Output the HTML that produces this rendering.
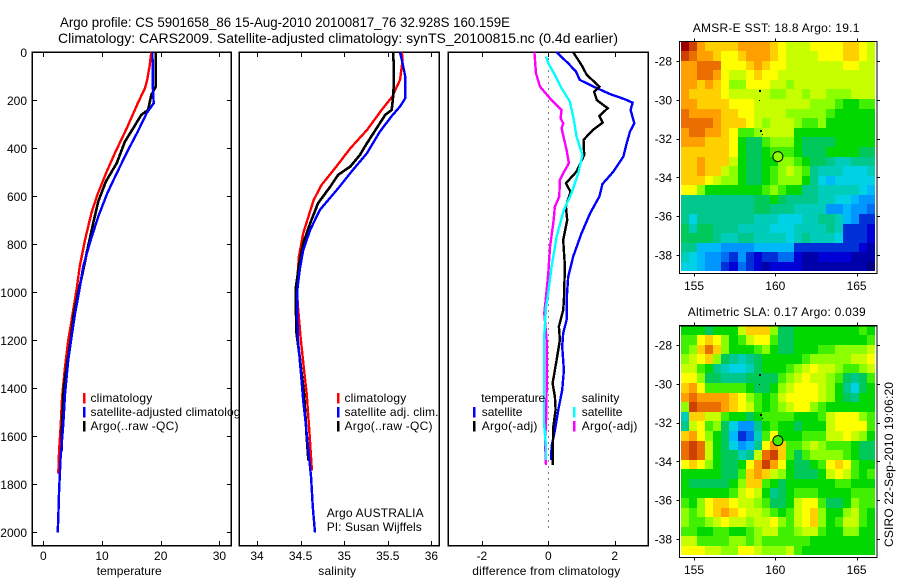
<!DOCTYPE html>
<html>
<head>
<meta charset="utf-8">
<title>Argo profile chart</title>
<style>
html,body{margin:0;padding:0;background:#fff;}
svg{display:block;font-family:"Liberation Sans",sans-serif;}
text{fill:#000;}
</style>
</head>
<body>
<svg id="chart" width="900" height="580" viewBox="0 0 900 580" xmlns="http://www.w3.org/2000/svg">
<rect x="0" y="0" width="900" height="580" fill="#fff"/>
<text x="60" y="27" font-size="14" textLength="450" lengthAdjust="spacingAndGlyphs">Argo profile: CS 5901658_86 15-Aug-2010 20100817_76 32.928S 160.159E</text>
<text x="58" y="43" font-size="14" textLength="560" lengthAdjust="spacingAndGlyphs">Climatology: CARS2009. Satellite-adjusted climatology: synTS_20100815.nc (0.4d earlier)</text>
<g id="p1"></g>
<g id="p2"></g>
<g id="p3"></g>
<g id="m1"></g>
<g id="m2"></g>
<text x="96.7" y="575" font-size="12" textLength="65">temperature</text>
<text x="318.3" y="575" font-size="12" textLength="37.7">salinity</text>
<text x="472.3" y="575" font-size="12" textLength="148">difference from climatology</text>
<text x="692.7" y="32" font-size="12" textLength="166.7">AMSR-E SST: 18.8 Argo: 19.1</text>
<text x="687.7" y="316" font-size="12" textLength="178">Altimetric SLA: 0.17 Argo: 0.039</text>
<text x="326.7" y="517" font-size="12" textLength="97">Argo AUSTRALIA</text>
<text x="326.7" y="531" font-size="12" textLength="95">PI: Susan Wijffels</text>
<text transform="translate(893,547) rotate(-90)" font-size="12" textLength="165">CSIRO 22-Sep-2010 19:06:20</text>
</svg>
<script>
// ---- profile data ----
const tClimDepth=[0,60,115,150,212,317,420,497,594,670,782,893,983,1118,1201,1312,1437,1562,1660,1754];
const tClim=[18.4,18.1,17.7,17.3,16.1,14.2,12.2,10.8,9.2,8.2,7.1,6.2,5.7,4.8,4.25,3.7,3.2,2.95,2.7,2.55];
const tSatDepth=[0,143,212,254,330,407,504,587,685,796,893,983,1090,1188,1285,1424,1549,1688,1826,1937,2001];
const tSat=[18.6,18.65,18.8,17.6,16.1,14.45,12.5,10.9,9.35,7.9,6.8,6.2,5.4,4.8,4.25,3.7,3.4,2.95,2.7,2.55,2.45];
const tArgoDepth=[0,143,178,240,261,317,372,462,539,622,712,824,921,983,1090,1201,1312,1396,1549,1660];
const tArgo=[19.15,19.15,18.4,17.85,16.7,15.3,13.9,12.5,10.65,9.35,8.5,7.5,6.7,6.1,5.2,4.65,3.97,3.5,3.2,3.1];

const sClimDepth=[0,33,115,185,240,324,400,476,553,615,685,754,851,983,1062,1188,1326,1424,1576,1743];
const sClim=[35.66,35.67,35.64,35.55,35.43,35.26,35.07,34.91,34.74,34.65,34.59,34.53,34.48,34.455,34.47,34.5,34.54,34.57,34.6,34.63];
const sSatDepth=[0,46,100,192,226,268,330,421,490,567,657,740,824,907,983,1062,1201,1340,1451,1549,1660,1771,1896,2001];
const sSat=[35.64,35.67,35.7,35.7,35.64,35.54,35.41,35.26,35.1,34.93,34.72,34.61,34.53,34.49,34.465,34.46,34.47,34.505,34.53,34.56,34.59,34.62,34.64,34.665];
const sArgoDepth=[0,60,170,240,261,317,379,428,476,511,560,629,712,796,879,983,1160,1270,1424,1604,1701];
const sArgo=[35.56,35.57,35.565,35.545,35.47,35.37,35.26,35.18,35.07,34.93,34.84,34.7,34.61,34.53,34.485,34.445,34.45,34.49,34.54,34.57,34.59];

const dtSatDepth=[0,46,80,115,143,174,196,210,240,296,330,379,435,497,549,601,671,754,851,935,1032,1115,1171,1226,1324,1407,1490,1574,1643,1699];
const dtSat=[0.25,0.6,0.83,0.95,1.36,1.86,2.31,2.54,2.48,2.59,2.46,2.36,2.26,1.96,1.63,1.54,1.26,1.0,0.75,0.6,0.55,0.55,0.45,0.42,0.47,0.42,0.3,0.2,0.1,0.08];
const dtArgoDepth=[0,53,94,143,164,199,233,265,293,324,365,428,497,546,581,643,699,782,893,1032,1074,1143,1199,1282,1379,1435,1490,1560,1643,1719];
const dtArgo=[0.75,1.0,1.16,1.54,1.38,1.46,1.79,1.54,1.64,1.34,1.06,1.08,0.85,0.53,0.67,0.53,0.57,0.45,0.5,0.47,0.45,0.32,0.35,0.25,0.13,0.2,0.22,0.15,0.14,0.13];
const dsSatDepth=[18,46,94,150,206,282,351,428,504,587,657,768,893,1032,1060,1199,1407,1546,1643,1699];
const dsSat=[-0.07,0,0.2,0.4,0.65,0.77,0.85,1.03,0.9,0.7,0.47,0.25,0.1,-0.03,-0.07,-0.13,-0.13,-0.13,-0.07,-0.07];
const dsArgoDepth=[0,88,143,192,240,275,296,317,407,462,504,532,601,643,712,810,921,1018,1087,1199,1407,1546,1615,1719];
const dsArgo=[-0.42,-0.37,-0.25,0.05,0.4,0.37,0.45,0.4,0.55,0.62,0.45,0.35,0.33,0.2,0.15,0.05,0,-0.07,-0.12,-0.05,-0.05,-0.07,-0.1,-0.07];

// ---- tick labels ----
const depthTicks=[0,200,400,600,800,1000,1200,1400,1600,1800,2000];
const tempTicks=[0,10,20,30];
const salTicks=[34,34.5,35,35.5,36];
const diffTicks=[-2,0,2];
const lonTicks=[155,160,165];
const latTicks=[-28,-30,-32,-34,-36,-38];

// ---- map fields (colour level 0-20, rows north to south, columns west to east) ----
const sstGrid=[
[20,19,17,16,16,16,16,17,17,17,17,16,15,14,14,14,15,15,15,15,16,16,15,14],
[19,18,17,17,16,15,15,16,17,17,17,16,15,14,14,14,14,15,15,15,16,16,15,14],
[17,17,18,18,18,15,15,15,16,17,16,15,15,14,14,14,14,14,14,14,15,15,14,14],
[17,17,18,18,17,15,14,14,15,16,15,15,14,14,14,14,14,14,14,14,14,14,14,14],
[17,17,16,17,16,15,13,13,15,15,15,14,14,13,14,14,14,14,14,14,14,14,14,14],
[17,16,16,16,16,15,14,14,14,14,14,13,13,14,14,13,14,14,13,13,13,14,14,14],
[17,17,16,16,16,16,15,15,15,14,14,14,14,14,14,14,13,13,13,12,11,11,12,12],
[18,17,17,17,17,16,16,15,15,14,14,14,14,13,13,13,13,13,12,11,11,11,11,11],
[18,18,18,18,17,16,16,16,15,14,13,14,14,14,13,12,12,13,11,11,11,11,11,11],
[17,18,18,17,17,16,15,12,12,13,14,14,14,14,11,11,11,11,11,11,11,11,11,11],
[17,17,17,16,16,16,15,11,10,10,12,13,13,13,11,10,10,10,10,11,11,11,11,11],
[16,16,16,16,16,16,15,11,10,10,11,12,12,12,11,10,10,10,11,11,11,11,10,10],
[16,16,17,16,16,16,14,11,10,10,11,11,13,13,12,11,10,10,9,8,8,9,9,9],
[16,16,17,16,16,14,13,11,10,10,11,12,13,14,13,12,9,8,8,8,7,7,7,8],
[16,16,16,15,14,13,13,11,10,10,11,12,13,13,13,11,9,7,6,7,7,7,7,7],
[15,15,13,11,11,11,11,11,11,11,12,13,12,11,11,9,9,8,8,8,8,8,7,6],
[9,9,9,9,9,9,9,9,9,10,10,11,10,9,9,9,9,8,8,7,7,6,5,5],
[9,9,9,9,9,9,9,9,9,10,10,9,9,9,8,8,8,8,5,5,6,5,5,4],
[9,7,9,9,9,9,9,9,9,8,8,8,7,7,7,8,8,9,9,8,6,5,3,3],
[10,8,10,10,9,9,9,8,8,8,8,7,7,7,8,8,8,8,9,8,3,3,3,2],
[10,10,10,10,9,8,8,9,9,8,8,8,8,7,8,9,8,8,8,7,3,3,3,2],
[9,9,6,6,6,5,5,5,5,6,6,6,6,6,3,3,3,3,3,3,3,3,2,1],
[8,7,6,5,5,4,3,5,3,2,3,3,4,4,2,1,1,2,2,2,2,1,1,1],
[7,7,6,5,5,3,2,4,3,2,1,2,2,2,2,1,1,1,1,1,1,1,1,0]
];
const slaGrid=[
[11,11,11,10,11,11,11,14,16,16,16,13,10,10,11,11,11,11,11,11,11,11,12,11],
[12,12,15,16,15,13,11,12,14,15,15,12,10,10,11,11,11,11,11,11,11,11,11,12],
[12,13,16,18,16,13,11,11,11,12,13,11,10,10,11,11,11,12,12,13,13,13,13,14],
[13,14,15,16,13,10,9,8,9,10,11,11,11,11,11,12,13,13,13,13,13,14,14,15],
[14,14,12,11,9,8,7,7,8,10,11,11,11,12,13,14,15,14,14,13,12,12,13,14],
[15,15,13,10,10,9,9,9,10,10,10,10,12,13,14,15,14,14,13,12,10,9,10,12],
[16,17,15,12,12,12,12,12,11,10,10,11,13,14,15,15,15,14,13,11,9,7,10,11],
[17,18,17,17,17,17,16,15,13,12,11,12,14,15,15,15,15,14,13,11,10,9,11,11],
[13,19,18,18,18,17,16,15,14,12,11,12,13,14,15,15,13,12,11,11,11,11,11,11],
[8,16,16,14,14,12,11,11,10,11,12,12,12,12,11,11,11,12,14,15,15,15,13,12],
[9,14,15,12,13,10,7,5,5,9,11,12,11,11,10,11,11,11,14,15,15,15,15,12],
[16,17,15,13,11,10,6,3,4,8,12,15,11,11,11,12,12,12,14,14,15,14,13,11],
[18,19,18,14,11,10,7,5,6,9,15,17,16,12,12,13,14,13,12,12,12,11,10,10],
[18,19,18,14,11,10,10,8,9,14,18,19,16,12,10,12,13,13,13,13,12,11,10,10],
[15,16,15,13,11,10,10,11,15,17,19,17,15,11,10,10,11,12,15,16,15,12,11,11],
[11,11,11,11,11,10,10,12,16,17,16,14,13,11,10,10,10,11,14,15,14,12,11,12],
[11,10,10,10,10,10,11,13,16,16,12,11,10,11,11,11,11,11,11,12,12,11,11,11],
[11,11,11,11,11,11,12,14,15,14,11,9,10,11,12,12,12,11,11,11,11,12,12,12],
[12,11,13,15,16,16,15,14,14,13,12,10,10,11,14,15,15,12,10,10,11,13,12,12],
[13,12,13,15,16,17,16,15,14,14,13,12,11,12,14,15,16,13,11,11,13,14,12,11],
[13,12,12,13,14,15,14,14,13,14,14,15,13,12,14,15,16,13,11,12,14,14,12,11],
[12,12,11,11,12,12,11,11,12,13,14,14,12,12,13,14,14,12,11,11,13,13,11,11],
[14,14,12,12,12,12,13,13,12,13,12,12,12,12,12,12,11,11,11,11,11,11,11,11],
[15,15,15,14,14,13,13,15,15,14,13,13,13,14,12,11,11,11,11,11,11,11,11,11]
];
const islandLon=[159.0,159.0,159.05,159.2];
const islandLat=[-29.5,-30.0,-31.55,-31.77];
const floatLon=160.159;
const floatLat=-32.928;
const sstFloatLevel=13;
const slaFloatLevel=12;

// ---- helpers ----
const NS='http://www.w3.org/2000/svg';
function mk(parent,tag,attrs){
  const el=document.createElementNS(NS,tag);
  for(const k in attrs){el.setAttribute(k,attrs[k]);}
  parent.appendChild(el);
  return el;
}
const TOP=52.3,BOTTOM=545.7;
function yDepth(d){return 52.3+d*0.24;}
function xTemp(v){return 43.3+v*5.87;}
function xSal(v){return 257+(v-34)*87.2;}
function xDiff(v){return 548.3+v*33.2;}

function panel(g,left,right,xFn,xTicks,hasYTicks,nameBase){
  const r=mk(g,'rect',{x:left,y:TOP,width:right-left,height:BOTTOM-TOP,fill:'#fff',stroke:'#000','stroke-width':1.3,'shape-rendering':'crispEdges'});
  
  
  xTicks.forEach(function(v){
    const x=Math.round(xFn(v))+0.5;
    const a=mk(g,'line',{x1:x,x2:x,y1:TOP,y2:TOP+4.5,stroke:'#000','shape-rendering':'crispEdges'});
    
    
    const b=mk(g,'line',{x1:x,x2:x,y1:BOTTOM-4.5,y2:BOTTOM,stroke:'#000','shape-rendering':'crispEdges'});
    
    
    const t=mk(g,'text',{x:xFn(v),y:560,'font-size':12,'text-anchor':'middle'});
    
    
    t.textContent=String(v);
  });
  if(hasYTicks){
    depthTicks.forEach(function(d){
      const y=Math.round(yDepth(d))+0.5;
      const a=mk(g,'line',{x1:left,x2:left+4.5,y1:y,y2:y,stroke:'#000','shape-rendering':'crispEdges'});
      
      
      const b=mk(g,'line',{x1:right-4.5,x2:right,y1:y,y2:y,stroke:'#000','shape-rendering':'crispEdges'});
      
      
      const t=mk(g,'text',{x:27,y:yDepth(d)+4.5,'font-size':12,'text-anchor':'end'});
      
      
      t.textContent=String(d);
    });
  }
}
function series(g,values,depths,xFn,color,w,name){
  const pts=values.map(function(v,i){return xFn(v).toFixed(1)+','+yDepth(depths[i]).toFixed(1);}).join(' ');
  const l=mk(g,'polyline',{points:pts,fill:'none',stroke:color,'stroke-width':w,'shape-rendering':'crispEdges'});
  
  
}
function legend(g,items){
  items.forEach(function(it){
    if(it.color){
      const s=mk(g,'rect',{x:it.sx,y:it.y-5,width:2.4,height:10.5,fill:it.color,'shape-rendering':'crispEdges'});
      
      
    }
    const t=mk(g,'text',{x:it.tx,y:it.y+4,'font-size':12,textLength:it.len});
    
    
    t.textContent=it.text;
  });
}

// ---- panels ----
const p1=document.getElementById('p1'),p2=document.getElementById('p2'),p3=document.getElementById('p3');
panel(p1,32.3,231.3,xTemp,tempTicks,true,'temperature');
series(p1,tClim,tClimDepth,xTemp,'#ff0000',2.4,'temperature-climatology-line');
series(p1,tArgo,tArgoDepth,xTemp,'#000000',2.6,'temperature-argo-line');
series(p1,tSat,tSatDepth,xTemp,'#0000ff',2.4,'temperature-satellite-line');
legend(p1,[
 {sx:83,tx:90.5,y:398,len:61.7,color:'#ff0000',text:'climatology',name:'temperature-legend-climatology'},
 {sx:83,tx:90.5,y:412,len:156,color:'#0000ff',text:'satellite-adjusted climatology',name:'temperature-legend-satellite'},
 {sx:83,tx:90.5,y:426,len:88,color:'#000000',text:'Argo(..raw -QC)',name:'temperature-legend-argo'}
]);
panel(p2,239.3,439.3,xSal,salTicks,false,'salinity');
series(p2,sClim,sClimDepth,xSal,'#ff0000',2.4,'salinity-climatology-line');
series(p2,sArgo,sArgoDepth,xSal,'#000000',2.6,'salinity-argo-line');
series(p2,sSat,sSatDepth,xSal,'#0000ff',2.4,'salinity-satellite-line');
legend(p2,[
 {sx:337,tx:344.5,y:398,len:61.7,color:'#ff0000',text:'climatology',name:'salinity-legend-climatology'},
 {sx:337,tx:344.5,y:412,len:94,color:'#0000ff',text:'satellite adj. clim.',name:'salinity-legend-satellite'},
 {sx:337,tx:344.5,y:426,len:88,color:'#000000',text:'Argo(..raw -QC)',name:'salinity-legend-argo'}
]);
panel(p3,448.3,648.3,xDiff,diffTicks,false,'difference');
const zeroLine=mk(p3,'line',{x1:548.5,x2:548.5,y1:TOP,y2:BOTTOM-14,stroke:'#000','stroke-width':1,'stroke-dasharray':'1 5','shape-rendering':'crispEdges'});


series(p3,dtSat,dtSatDepth,xDiff,'#0000ff',2.4,'difference-temperature-satellite-line');
series(p3,dtArgo,dtArgoDepth,xDiff,'#000000',2.4,'difference-temperature-argo-line');
series(p3,dsArgo,dsArgoDepth,xDiff,'#ff00ff',2.4,'difference-salinity-argo-line');
series(p3,dsSat,dsSatDepth,xDiff,'#00ffff',2.4,'difference-salinity-satellite-line');
legend(p3,[
 {tx:481.2,y:398,len:64,text:'temperature',name:'difference-legend-temperature-heading'},
 {sx:473,tx:481.7,y:412,len:40.7,color:'#0000ff',text:'satellite',name:'difference-legend-temperature-satellite'},
 {sx:473,tx:481.7,y:426,len:55.7,color:'#000000',text:'Argo(-adj)',name:'difference-legend-temperature-argo'},
 {tx:581.7,y:398,len:37.7,text:'salinity',name:'difference-legend-salinity-heading'},
 {sx:573,tx:581.7,y:412,len:40.7,color:'#00ffff',text:'satellite',name:'difference-legend-salinity-satellite'},
 {sx:573,tx:581.7,y:426,len:55.7,color:'#ff00ff',text:'Argo(-adj)',name:'difference-legend-salinity-argo'}
]);

// ---- maps ----
const stops=[[0,0,0,128],[1,0,0,170],[2,0,0,215],[3,0,48,215],[4,0,110,240],[5,0,150,255],[6,0,185,250],[7,0,210,230],[8,0,205,185],[9,0,200,140],[10,0,200,90],[11,0,216,0],[12,64,240,0],[13,140,255,0],[14,200,255,0],[15,255,255,0],[16,255,208,0],[17,255,160,0],[18,235,110,0],[19,205,65,0],[20,160,0,0]];
function levelColor(v){
  const i=Math.max(0,Math.min(20,Math.round(v)));
  const s=stops[i];
  return 'rgb('+s[1]+','+s[2]+','+s[3]+')';
}
function mapPanel(g,grid,y28,floatLevel,nameBase,lonLabelY){
  function xLon(lon){return 775.3+(lon-160)*16.26;}
  function yLat(lat){return y28+(-28-lat)*19.4;}
  const left=679.5,right=877,top=yLat(-27),bottom=yLat(-38.95);
  const nr=grid.length,nc=grid[0].length;
  const imgL=xLon(154.2),imgR=xLon(166.13),imgT=top,imgB=yLat(-38.85);
  const bg=mk(g,'rect',{x:left,y:top,width:right-left,height:bottom-top,fill:'#fff'});
  
  
  grid.forEach(function(row,r){
    row.forEach(function(v,c){
      const x0=Math.round(imgL+(imgR-imgL)*c/nc),x1=Math.round(imgL+(imgR-imgL)*(c+1)/nc);
      const y0=Math.round(imgT+(imgB-imgT)*r/nr),y1=Math.round(imgT+(imgB-imgT)*(r+1)/nr);
      const cell=mk(g,'rect',{x:x0,y:y0,width:x1-x0,height:y1-y0,fill:levelColor(v),'shape-rendering':'crispEdges'});
      
      
    });
  });
  const frame=mk(g,'rect',{x:left,y:top,width:right-left,height:bottom-top,fill:'none',stroke:'#000','stroke-width':1.3,'shape-rendering':'crispEdges'});
  
  
  lonTicks.forEach(function(lon){
    const x=Math.round(xLon(lon))+0.5;
    const a=mk(g,'line',{x1:x,x2:x,y1:top-3,y2:top,stroke:'#000','shape-rendering':'crispEdges'});
    
    
    const b=mk(g,'line',{x1:x,x2:x,y1:bottom,y2:bottom+3,stroke:'#000','shape-rendering':'crispEdges'});
    
    
    const t=mk(g,'text',{x:xLon(lon),y:lonLabelY,'font-size':12,'text-anchor':'middle'});
    
    
    t.textContent=String(lon);
  });
  latTicks.forEach(function(lat){
    const y=Math.round(yLat(lat))+0.5;
    const a=mk(g,'line',{x1:left-3,x2:left,y1:y,y2:y,stroke:'#000','shape-rendering':'crispEdges'});
    
    
    const b=mk(g,'line',{x1:right,x2:right+3,y1:y,y2:y,stroke:'#000','shape-rendering':'crispEdges'});
    
    
    const t=mk(g,'text',{x:672,y:yLat(lat)+4.5,'font-size':12,'text-anchor':'end'});
    
    
    t.textContent=String(lat);
  });
  islandLon.forEach(function(lon,i){
    const d=mk(g,'rect',{x:Math.round(xLon(lon)),y:Math.round(yLat(islandLat[i])),width:i===1||i===3?1:2,height:i===1||i===3?1:2,fill:'#000','shape-rendering':'crispEdges'});
    
    
  });
  const c=mk(g,'circle',{cx:xLon(floatLon),cy:yLat(floatLat),r:5,fill:levelColor(floatLevel),stroke:'#000','stroke-width':1});
  
  
}
mapPanel(document.getElementById('m1'),sstGrid,61,sstFloatLevel,'sst-map',290);
mapPanel(document.getElementById('m2'),slaGrid,345,slaFloatLevel,'sla-map',574);
</script>
</body>
</html>
